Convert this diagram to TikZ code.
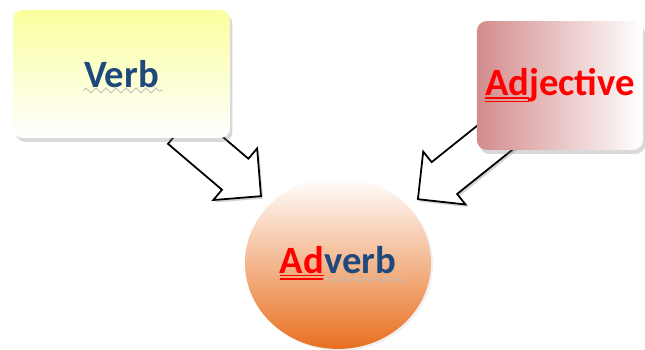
\documentclass[tikz,border=0pt]{standalone}
\usepackage{fontspec}
\setmainfont{Carlito}
\usepackage{tikz}
\usetikzlibrary{shapes.geometric,shapes.arrows}
\usetikzlibrary{positioning,calc,shadows,backgrounds,decorations.pathmorphing}

\definecolor{wordblue}{RGB}{31,73,125}
\definecolor{verbtop}{RGB}{250,255,158}
\definecolor{adjleft}{RGB}{211,140,140}
\definecolor{advmiddle}{RGB}{243,200,182}
\definecolor{advbottom}{RGB}{232,112,32}

% double underline for the prefix
\newcommand{\dblul}[1]{\setbox0\hbox{#1}%
  \rlap{\rule[-1.6pt]{\wd0}{0.9pt}}\rlap{\rule[-3.6pt]{\wd0}{0.9pt}}\box0}

\tikzstyle{word} = [font=\fontsize{22}{26}\selectfont\bfseries]
\tikzstyle{box} = [word, rounded corners=0.2cm, minimum width=4.34cm,
    minimum height=2.56cm,
    drop shadow={opacity=0.3, shadow xshift=0.05cm, shadow yshift=-0.08cm}]
\tikzstyle{bigarrow} = [single arrow, draw, fill=white, line width=1pt,
    inner xsep=0pt, inner ysep=0.39cm, minimum width=1pt,
    single arrow head extend=0.27cm, single arrow tip angle=90,
    drop shadow={opacity=0.35, shadow xshift=0.04cm, shadow yshift=-0.05cm}]
\tikzstyle{squiggle} = [draw=black!25, line width=0.5pt, decorate,
    decoration={zigzag, amplitude=0.05cm, segment length=0.2cm}]

% block arrow with its tip at #2
\newcommand{\fatarrow}[2]{%
  \path let \p1 = ($(#2)-(#1)$), \n1 = {atan2(\y1,\x1)},
    \n2 = {veclen(\x1,\y1)} in
    node [bigarrow, minimum height=\n2, rotate=\n1, anchor=tip] at (#2) {};}

\begin{document}
\begin{tikzpicture}[x=0.02cm, y=0.02cm]
  \useasboundingbox (0,0) rectangle (645,-349);
  \node [box, top color=verbtop, bottom color=white, text=wordblue]
    (verb) at (121.5,-74) {Verb};
  \node [box, minimum width=3.32cm, minimum height=2.58cm,
    left color=adjleft, right color=white, text=red,
    right of=verb, node distance=8.77cm, yshift=-0.23cm] (adj)
    {\dblul{Ad}jective};
  \node [word, ellipse, minimum width=3.72cm, minimum height=3.44cm,
    top color=white, middle color=advmiddle, bottom color=advbottom,
    drop shadow={opacity=0.12, shadow xshift=0.04cm, shadow yshift=-0.04cm},
    below of=verb, node distance=3.78cm, xshift=4.33cm] (adv)
    {\textcolor{red}{\dblul{Ad}}\textcolor{wordblue}{verb}};
  \draw [squiggle] ([shift={(-38,-16.5)}]verb.center)
    -- ([shift={(41,-16.5)}]verb.center);
  \draw [squiggle] ([shift={(-15,-16.5)}]adv.center)
    -- ([shift={(66,-16.5)}]adv.center);
  \begin{scope}[on background layer]
    \coordinate (vtail) at ([shift={(60.5,-55)}]verb.center);
    \coordinate (vtip) at ([shift={(-76,66)}]adv.center);
    \coordinate (atail) at ([shift={(-53,-42.5)}]adj.center);
    \coordinate (atip) at ([shift={(79,63)}]adv.center);
    \fatarrow{vtail}{vtip}
    \fatarrow{atail}{atip}
  \end{scope}
\end{tikzpicture}
\end{document}
